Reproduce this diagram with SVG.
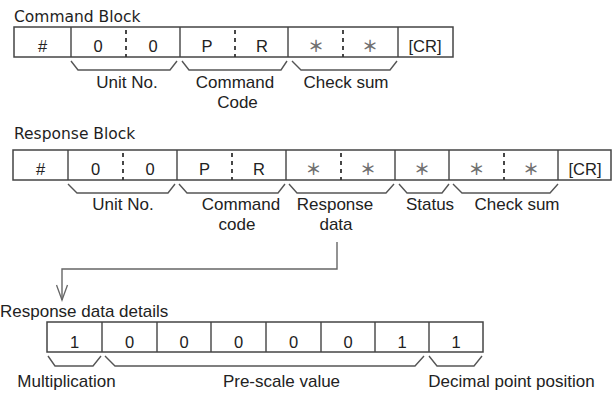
<svg xmlns="http://www.w3.org/2000/svg" width="613" height="403" viewBox="0 0 613 403">
<style>
.title{font-family:"DejaVu Sans",sans-serif;font-size:15.5px;fill:#1e1e1e}
.lbl{font-family:"Liberation Sans",Arial,sans-serif;font-size:17px;fill:#222;text-anchor:middle}
.cell{font-family:"Liberation Sans",Arial,sans-serif;font-size:16.5px;fill:#222;text-anchor:middle}
.ast{font-family:"Noto Sans CJK JP",sans-serif;font-size:16px;font-weight:bold;fill:#707070;text-anchor:middle}
.box{fill:#fff;stroke:#444;stroke-width:1.5}
.div{stroke:#444;stroke-width:1.4;fill:none}
.dash{stroke:#333;stroke-width:1.8;stroke-dasharray:4 4;fill:none}
.brace{stroke:#555;stroke-width:1.4;fill:none}
.conn{stroke:#666;stroke-width:1.4;fill:none}
</style>
<defs>
<marker id="arr" markerWidth="14" markerHeight="18" refX="6" refY="16" orient="0" markerUnits="userSpaceOnUse">
<path d="M0.5,1 L6,16 L11.5,1" fill="none" stroke="#666" stroke-width="1.3"/>
</marker>
</defs>

<g id="command-block">
<text class="title" x="14" y="22">Command Block</text>
<rect class="box" x="14" y="27" width="439" height="30"/>
<path class="div" d="M71,27V57M180,27V57M288,27V57M398,27V57"/>
<path class="dash" d="M126,30V57M235,30V57M343,30V57"/>
<text class="cell" x="42.5" y="52">#</text>
<text class="cell" x="98" y="52">0</text>
<text class="cell" x="153" y="52">0</text>
<text class="cell" x="207" y="52">P</text>
<text class="cell" x="262" y="52">R</text>
<text class="ast" x="316" y="52">＊</text>
<text class="ast" x="370" y="52">＊</text>
<text class="cell" x="425" y="52">[CR]</text>
<path class="brace" d="M71,61L78,70H170L177,61M182,61L189,70H281L287,61M292,61L301,70H390L397,61"/>
<text class="lbl" x="127" y="88">Unit No.</text>
<text class="lbl" x="235" y="88">Command</text>
<text class="lbl" x="237.5" y="108">Code</text>
<text class="lbl" x="346" y="88">Check sum</text>
</g>

<g id="response-block">
<text class="title" x="14" y="139">Response Block</text>
<rect class="box" x="13" y="150" width="598" height="30"/>
<path class="div" d="M68,150V180M177,150V180M286,150V180M395,150V180M449,150V180M558,150V180"/>
<path class="dash" d="M123,153V180M232,153V180M341,153V180M504,153V180"/>
<text class="cell" x="40.5" y="175">#</text>
<text class="cell" x="95.5" y="175">0</text>
<text class="cell" x="150" y="175">0</text>
<text class="cell" x="204.5" y="175">P</text>
<text class="cell" x="259" y="175">R</text>
<text class="ast" x="313.5" y="175">＊</text>
<text class="ast" x="368" y="175">＊</text>
<text class="ast" x="422" y="175">＊</text>
<text class="ast" x="476.5" y="175">＊</text>
<text class="ast" x="531" y="175">＊</text>
<text class="cell" x="585" y="175">[CR]</text>
<path class="brace" d="M68,184L77,193H168L175,184M179,184L187,193H278L285,184M289,184L297,193H386L394,184M399,184L407,193H442L449,184M453,184L462,193H550L558,184"/>
<text class="lbl" x="123" y="210">Unit No.</text>
<text class="lbl" x="241" y="210">Command</text>
<text class="lbl" x="237" y="230">code</text>
<text class="lbl" x="335" y="210">Response</text>
<text class="lbl" x="336" y="230">data</text>
<text class="lbl" x="430" y="210">Status</text>
<text class="lbl" x="517" y="210">Check sum</text>
</g>

<g id="connectors">
<path class="conn" d="M337,242V269H62V300" marker-end="url(#arr)"/>
</g>

<g id="response-data-details">
<text class="lbl" x="0" y="317" style="text-anchor:start">Response data details</text>
<rect class="box" x="47" y="322" width="436" height="30"/>
<path class="div" d="M102,322V352M157,322V352M211,322V352M266,322V352M321,322V352M375,322V352M429,322V352"/>
<text class="cell" x="74.5" y="348">1</text>
<text class="cell" x="129.5" y="348">0</text>
<text class="cell" x="184" y="348">0</text>
<text class="cell" x="238.5" y="348">0</text>
<text class="cell" x="293.5" y="348">0</text>
<text class="cell" x="348" y="348">0</text>
<text class="cell" x="402" y="348">1</text>
<text class="cell" x="456" y="348">1</text>
<path class="brace" d="M48,356L55,366H93L101,356M105,356L115,366H415L424,356M429,356L437,366H474L482,356"/>
<text class="lbl" x="66.5" y="387">Multiplication</text>
<text class="lbl" x="281.5" y="387">Pre-scale value</text>
<text class="lbl" x="511.5" y="387">Decimal point position</text>
</g>
</svg>
